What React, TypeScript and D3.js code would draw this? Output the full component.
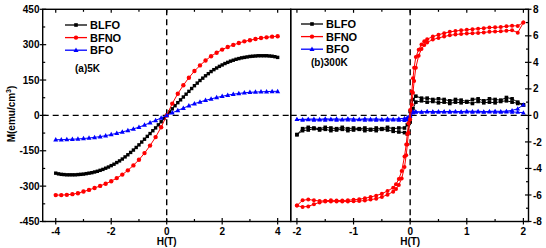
import React from 'react';
import * as d3 from 'd3';

// ---------- data: panel (a) 5K ----------
const h5kFine = [
  -4.0,-3.9,-3.8,-3.7,-3.6,-3.5,-3.4,-3.3,-3.2,-3.1,-3.0,-2.9,-2.8,-2.7,-2.6,-2.5,-2.4,-2.3,-2.2,-2.1,
  -2.0,-1.9,-1.8,-1.7,-1.6,-1.5,-1.4,-1.3,-1.2,-1.1,-1.0,-0.9,-0.8,-0.7,-0.6,-0.5,-0.4,-0.3,-0.2,-0.1,
  0,0.1,0.2,0.3,0.4,0.5,0.6,0.7,0.8,0.9,1.0,1.1,1.2,1.3,1.4,1.5,1.6,1.7,1.8,1.9,
  2.0,2.1,2.2,2.3,2.4,2.5,2.6,2.7,2.8,2.9,3.0,3.1,3.2,3.3,3.4,3.5,3.6,3.7,3.8,3.9,4.0,
];
const m5kBLFO = [
  -245,-248,-250,-251,-252,-252,-252,-252,-251,-250,-249,-247,-245,-243,-240,-237,-233,-229,-224,-219,
  -213,-207,-200,-193,-185,-176,-167,-157,-147,-136,-125,-113,-101,-89,-77,-65,-53,-40,-27,-13,
  0,14,28,41,54,66,78,90,102,114,126,137,148,158,168,177,186,194,201,208,
  214,220,225,230,234,238,241,244,246,248,250,251,252,253,253,253,253,252,251,249,246,
];
const h5kCoarse = [
  -4.0,-3.8,-3.6,-3.4,-3.2,-3.0,-2.8,-2.6,-2.4,-2.2,-2.0,-1.8,-1.6,-1.4,-1.2,-1.0,-0.8,-0.6,-0.4,-0.2,
  0,0.2,0.4,0.6,0.8,1.0,1.2,1.4,1.6,1.8,2.0,2.2,2.4,2.6,2.8,3.0,3.2,3.4,3.6,3.8,4.0,
];
const m5kBFNO = [
  -338,-338,-337,-334,-330,-323,-316,-308,-299,-290,-279,-266,-251,-233,-212,-188,-160,-128,-92,-50,
  0,50,92,128,160,188,212,233,251,266,279,290,299,307,314,319,324,328,331,334,336,
];
const m5kBFO = [
  -103,-103,-102,-101,-100,-98,-96,-93,-90,-86,-81,-76,-70,-64,-57,-50,-41,-31,-21,-11,
  0,11,21,31,41,50,57,64,70,76,81,86,90,93,96,98,99,100,101,102,102,
];

// ---------- data: panel (b) 300K ----------
const hRedDesc = [
  2.0,1.9,1.8,1.7,1.6,1.5,1.4,1.3,1.2,1.1,1.0,0.9,0.8,0.7,0.6,0.5,0.4,0.3,0.25,0.2,0.15,0.1,0.07,0.05,0.03,
  0,-0.03,-0.05,-0.07,-0.1,-0.15,-0.2,-0.25,-0.3,-0.4,-0.5,-0.6,-0.7,-0.8,-0.9,-1.0,-1.1,-1.2,-1.3,-1.4,
  -1.5,-1.6,-1.7,-1.8,-1.9,-2.0,
];
const mRedDesc = [
  7.0,6.75,6.76,6.72,6.66,6.64,6.62,6.58,6.54,6.5,6.45,6.42,6.36,6.3,6.2,6.08,5.94,5.75,5.6,5.35,4.95,4.4,3.6,2.8,1.8,
  0.4,-0.6,-1.4,-2.2,-3.1,-4.2,-4.8,-5.2,-5.45,-5.7,-5.9,-6.05,-6.15,-6.25,-6.32,-6.36,-6.4,-6.42,-6.42,-6.4,
  -6.44,-6.46,-6.4,-6.34,-6.4,-6.8,
];
const hRedAsc = [
  -2.0,-1.9,-1.8,-1.7,-1.6,-1.5,-1.4,-1.3,-1.2,-1.1,-1.0,-0.9,-0.8,-0.7,-0.6,-0.5,-0.4,-0.3,-0.25,-0.2,-0.15,-0.1,-0.07,-0.05,-0.03,
  0,0.03,0.05,0.07,0.1,0.15,0.2,0.25,0.3,0.4,0.5,0.6,0.7,0.8,0.9,1.0,1.1,1.2,1.3,1.4,
  1.5,1.6,1.7,1.8,1.9,2.0,
];
const mRedAsc = [
  -6.8,-6.9,-6.86,-6.7,-6.56,-6.5,-6.5,-6.5,-6.5,-6.5,-6.48,-6.46,-6.42,-6.35,-6.28,-6.15,-5.98,-5.75,-5.55,-5.25,-4.75,-3.9,-3.0,-2.2,-1.3,
  -0.3,0.8,1.7,2.6,3.6,4.5,5.0,5.3,5.5,5.72,5.84,5.95,6.04,6.1,6.14,6.17,6.2,6.22,6.26,6.3,
  6.32,6.34,6.38,6.42,6.24,7.0,
];
const h300Desc = [
  2.0,1.9,1.8,1.7,1.6,1.5,1.4,1.3,1.2,1.1,1.0,0.9,0.8,0.7,0.6,0.5,0.4,0.3,0.2,0.1,0.05,
  0,-0.05,-0.1,-0.2,-0.3,-0.4,-0.5,-0.6,-0.7,-0.8,-0.9,-1.0,-1.1,-1.2,-1.3,-1.4,-1.5,-1.6,-1.7,-1.8,-1.9,-2.0,
];
const h300Asc = [
  -2.0,-1.9,-1.8,-1.7,-1.6,-1.5,-1.4,-1.3,-1.2,-1.1,-1.0,-0.9,-0.8,-0.7,-0.6,-0.5,-0.4,-0.3,-0.2,-0.1,-0.05,
  0,0.05,0.1,0.2,0.3,0.4,0.5,0.6,0.7,0.8,0.9,1.0,1.1,1.2,1.3,1.4,1.5,1.6,1.7,1.8,1.9,2.0,
];
const mBLFODesc = [
  0.8,1.0,1.25,1.35,1.15,1.2,1.25,1.1,1.25,1.2,1.05,1.15,1.2,1.1,1.2,1.25,1.2,1.3,1.3,1.45,1.2,
  0.3,-0.7,-0.95,-0.95,-1.0,-0.9,-1.0,-0.95,-1.05,-0.95,-1.0,-0.95,-1.0,-0.9,-1.0,-0.95,-0.9,-1.0,-0.95,-0.9,-1.0,-1.45,
];
const mBLFOAsc = [
  -1.45,-1.15,-1.1,-1.0,-1.1,-1.05,-1.15,-1.1,-1.05,-1.15,-1.1,-1.05,-1.15,-1.1,-1.15,-1.05,-1.1,-1.2,-1.25,-1.3,-1.4,
  -0.5,0.5,1.0,1.1,1.0,1.05,0.95,1.0,0.9,1.0,0.95,1.0,0.9,1.05,0.95,1.0,0.95,1.05,1.1,1.0,0.9,0.8,
];
const mBFODesc = [
  0.8,0.5,0.38,0.32,0.3,0.32,0.3,0.28,0.32,0.3,0.32,0.28,0.3,0.3,0.28,0.3,0.28,0.3,0.26,0.28,0.3,
  0.05,-0.15,-0.22,-0.25,-0.28,-0.25,-0.3,-0.26,-0.28,-0.25,-0.3,-0.27,-0.25,-0.3,-0.26,-0.28,-0.25,-0.3,-0.27,-0.28,-0.3,-0.3,
];
const mBFOAsc = [
  -0.3,-0.35,-0.32,-0.36,-0.33,-0.35,-0.32,-0.36,-0.34,-0.33,-0.36,-0.32,-0.35,-0.34,-0.36,-0.33,-0.35,-0.34,-0.36,-0.38,-0.3,
  -0.05,0.2,0.25,0.24,0.27,0.25,0.24,0.27,0.25,0.26,0.24,0.27,0.25,0.26,0.24,0.27,0.25,0.24,0.26,0.25,0.24,0.2,
];

const ticksA_X = [-4, -2, 0, 2, 4];
const minorA_X = [-3, -1, 1, 3];
const ticksA_Y = [-450, -300, -150, 0, 150, 300, 450];
const minorA_Y = [-375, -225, -75, 75, 225, 375];
const ticksB_X = [-2, -1, 0, 1, 2];
const minorB_X = [-1.5, -0.5, 0.5, 1.5];
const ticksB_Y = [-8, -6, -4, -2, 0, 2, 4, 6, 8];
const minorB_Y = [-7, -5, -3, -1, 1, 3, 5, 7];

const legendNames = ['BLFO', 'BFNO', 'BFO'];
const COLORS = { BLFO: '#000000', BFNO: '#ff0000', BFO: '#0000ff' };

// ---------- geometry ----------
const W = 546, HGT = 248;
const TOP = 9.3, BOT = 221.5;
const A_L = 42.7, A_R = 290.7;
const B_L = 290.7, B_R = 528.5;

const xA = d3.scaleLinear().domain([-4.47, 4.47]).range([A_L, A_R]);
const yA = d3.scaleLinear().domain([-450, 450]).range([BOT, TOP]);
const xB = d3.scaleLinear().domain([-2.11, 2.09]).range([B_L, B_R]);
const yB = d3.scaleLinear().domain([-8, 8]).range([BOT, TOP]);

const FONT = 'Liberation Sans, Arial, sans-serif';

type Shape = 'square' | 'circle' | 'triangle';

function Marker({ x, y, shape, color, s }: { x: number; y: number; shape: Shape; color: string; s: number }) {
  if (shape === 'square') return <rect x={x - s / 2} y={y - s / 2} width={s} height={s} fill={color} />;
  if (shape === 'circle') return <circle cx={x} cy={y} r={s / 2} fill={color} />;
  const h = s * 0.9;
  return <path d={`M${x},${y - h * 0.6}L${x + s / 2},${y + h * 0.4}L${x - s / 2},${y + h * 0.4}Z`} fill={color} />;
}

function Series({ hs, ms, xs, ys, color, shape, s }: any) {
  const pts: [number, number][] = hs.map((h: number, i: number) => [xs(h), ys(ms[i])]);
  const line = d3.line()(pts) || '';
  return (
    <g>
      <path d={line} fill="none" stroke={color} strokeWidth={1} />
      {pts.map((p, i) => <Marker key={i} x={p[0]} y={p[1]} shape={shape} color={color} s={s} />)}
    </g>
  );
}

function Legend({ x, y, label, labelY }: { x: number; y: number; label: string; labelY: number }) {
  const shapes: Shape[] = ['square', 'circle', 'triangle'];
  const sizes = [3.6, 4.4, 5];
  return (
    <g>
      {legendNames.map((n, i) => {
        const yy = y + i * 12.6;
        const c = (COLORS as any)[n];
        return (
          <g key={n}>
            <line x1={x} x2={x + 22} y1={yy} y2={yy} stroke={c} strokeWidth={1.3} />
            <Marker x={x + 11} y={yy} shape={shapes[i]} color={c} s={sizes[i]} />
            <text x={x + 25} y={yy + 4} fontSize={11} fontWeight="bold" fontFamily={FONT} fill="#000">{n}</text>
          </g>
        );
      })}
      <text x={x + 10} y={labelY} fontSize={10} fontWeight="bold" fontFamily={FONT} fill="#000">{label}</text>
    </g>
  );
}

export default function App() {
  const fs = 10;
  return (
    <svg width={W} height={HGT} viewBox={`0 0 ${W} ${HGT}`} style={{ position: 'absolute', left: 0, top: 0, background: '#fff' }}>
      <rect x={0} y={0} width={W} height={HGT} fill="#fff" />
      {/* dashed zero lines */}
      <g stroke="#000" strokeWidth={1.4} strokeDasharray="6,4">
        <line x1={A_L} x2={A_R} y1={yA(0)} y2={yA(0)} />
        <line x1={xA(0)} x2={xA(0)} y1={TOP} y2={BOT} />
        <line x1={B_L} x2={B_R} y1={yB(0)} y2={yB(0)} />
        <line x1={xB(0)} x2={xB(0)} y1={TOP} y2={BOT} />
      </g>

      {/* panel a data */}
      <Series hs={h5kFine} ms={m5kBLFO} xs={xA} ys={yA} color={COLORS.BLFO} shape="square" s={3.4} />
      <Series hs={h5kCoarse} ms={m5kBFNO} xs={xA} ys={yA} color={COLORS.BFNO} shape="circle" s={4.4} />
      <Series hs={h5kCoarse} ms={m5kBFO} xs={xA} ys={yA} color={COLORS.BFO} shape="triangle" s={5} />

      {/* panel b data */}
      <Series hs={h300Desc} ms={mBLFODesc} xs={xB} ys={yB} color={COLORS.BLFO} shape="square" s={3.6} />
      <Series hs={h300Asc} ms={mBLFOAsc} xs={xB} ys={yB} color={COLORS.BLFO} shape="square" s={3.6} />
      <Series hs={h300Desc} ms={mBFODesc} xs={xB} ys={yB} color={COLORS.BFO} shape="triangle" s={4.6} />
      <Series hs={h300Asc} ms={mBFOAsc} xs={xB} ys={yB} color={COLORS.BFO} shape="triangle" s={4.6} />
      <Series hs={hRedDesc} ms={mRedDesc} xs={xB} ys={yB} color={COLORS.BFNO} shape="circle" s={4} />
      <Series hs={hRedAsc} ms={mRedAsc} xs={xB} ys={yB} color={COLORS.BFNO} shape="circle" s={4} />

      {/* frames */}
      <g fill="none" stroke="#000" strokeWidth={1.4}>
        <rect x={A_L} y={TOP} width={A_R - A_L} height={BOT - TOP} />
        <rect x={B_L} y={TOP} width={B_R - B_L} height={BOT - TOP} />
      </g>

      {/* ticks panel a */}
      <g stroke="#000" strokeWidth={1.2}>
        {ticksA_X.map(t => <g key={'ax' + t}>
          <line x1={xA(t)} x2={xA(t)} y1={BOT - 3.5} y2={BOT + 3} />
          <line x1={xA(t)} x2={xA(t)} y1={TOP} y2={TOP + 3.5} />
        </g>)}
        {minorA_X.map(t => <g key={'amx' + t}>
          <line x1={xA(t)} x2={xA(t)} y1={BOT - 2.5} y2={BOT} />
          <line x1={xA(t)} x2={xA(t)} y1={TOP} y2={TOP + 2.5} />
        </g>)}
        {ticksA_Y.map(t => <line key={'ay' + t} x1={A_L - 3} x2={A_L + 3.5} y1={yA(t)} y2={yA(t)} />)}
        {minorA_Y.map(t => <line key={'amy' + t} x1={A_L} x2={A_L + 2.5} y1={yA(t)} y2={yA(t)} />)}
      </g>
      {/* ticks panel b */}
      <g stroke="#000" strokeWidth={1.2}>
        {ticksB_X.map(t => <g key={'bx' + t}>
          <line x1={xB(t)} x2={xB(t)} y1={BOT - 3.5} y2={BOT + 3} />
          <line x1={xB(t)} x2={xB(t)} y1={TOP} y2={TOP + 3.5} />
        </g>)}
        {minorB_X.map(t => <g key={'bmx' + t}>
          <line x1={xB(t)} x2={xB(t)} y1={BOT - 2.5} y2={BOT} />
          <line x1={xB(t)} x2={xB(t)} y1={TOP} y2={TOP + 2.5} />
        </g>)}
        {ticksB_Y.map(t => <line key={'by' + t} x1={B_R - 3.5} x2={B_R + 3} y1={yB(t)} y2={yB(t)} />)}
        {minorB_Y.map(t => <line key={'bmy' + t} x1={B_R - 2.5} x2={B_R} y1={yB(t)} y2={yB(t)} />)}
      </g>

      {/* tick labels */}
      <g fontSize={fs} fontWeight="bold" fontFamily={FONT} fill="#000">
        {ticksA_X.map(t => <text key={'lax' + t} x={xA(t)} y={235} textAnchor="middle">{t}</text>)}
        {ticksA_Y.map(t => <text key={'lay' + t} x={39.5} y={yA(t) + 3.6} textAnchor="end">{t}</text>)}
        {ticksB_X.map(t => <text key={'lbx' + t} x={xB(t)} y={235} textAnchor="middle">{t}</text>)}
        {ticksB_Y.map(t => <text key={'lby' + t} x={533} y={yB(t) + 3.6} textAnchor="start">{t}</text>)}
      </g>

      {/* axis titles */}
      <g fontSize={10} fontWeight="bold" fontFamily={FONT} fill="#000">
        <text x={xA(0)} y={245} textAnchor="middle">H(T)</text>
        <text x={xB(0)} y={245} textAnchor="middle">H(T)</text>
        <text transform={`translate(14.5,114) rotate(-90)`} textAnchor="middle">
          M(emu/cm<tspan fontSize={7} dy={-4}>3</tspan><tspan dy={4}>)</tspan>
        </text>
      </g>

      <Legend x={65} y={25} label="(a)5K" labelY={72} />
      <Legend x={301} y={24} label="(b)300K" labelY={66} />
    </svg>
  );
}
